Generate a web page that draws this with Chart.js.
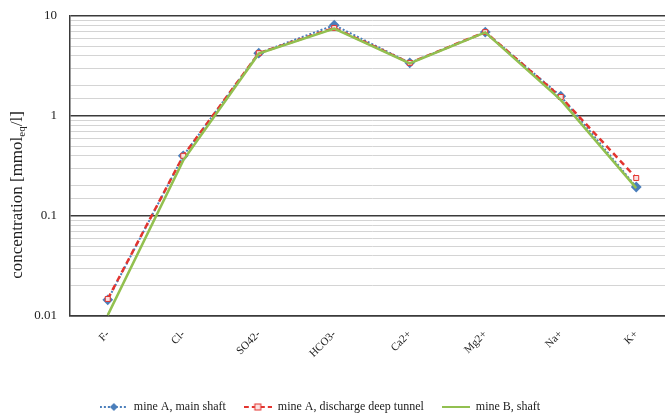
<!DOCTYPE html>
<html>
<head>
<meta charset="utf-8">
<script src="https://cdn.jsdelivr.net/npm/chart.js@4.4.1/dist/chart.umd.min.js"></script>
<style>
    html, body { margin: 0; padding: 0; background: #fff; overflow: hidden; }
    #wrap { width: 665px; height: 418px; overflow: hidden; }
</style>
</head>
<body>
<div id="wrap"><canvas id="chart" width="680" height="418"></canvas></div>
<script>
// ions on the x axis
const ions = ['F-', 'Cl-', 'SO42-', 'HCO3-', 'Ca2+', 'Mg2+', 'Na+', 'K+'];
// concentrations in mmol_eq/l
const mineAMain = [0.0145, 0.40, 4.25, 8.1, 3.4, 6.9, 1.58, 0.195];
const mineADeep = [0.0148, 0.40, 4.25, 7.6, 3.4, 6.9, 1.55, 0.24];
const mineBShaft = [0.0102, 0.36, 4.2, 7.5, 3.35, 6.85, 1.45, 0.19];
const seriesNames = ['mine A, main shaft', 'mine A, discharge deep tunnel', 'mine B, shaft'];
// labelled y ticks
const yTicks = [0.01, 0.1, 1, 10];

const FONT = '"Liberation Serif", "DejaVu Serif", serif';
const BLUE = '#4a7ebb';
const RED = '#e3342f';
const GREEN = '#92c050';

function isDecade(v) {
    const l = Math.log10(v);
    return Math.abs(l - Math.round(l)) < 1e-6;
}

// small legend picture: line sample with the marker in the middle
function legendSample(color, dash, marker) {
    const c = document.createElement('canvas');
    c.width = 28;
    c.height = 10;
    const g = c.getContext('2d');
    g.strokeStyle = color;
    g.lineWidth = 2;
    g.setLineDash(dash);
    g.beginPath();
    g.moveTo(0, 5);
    g.lineTo(28, 5);
    g.stroke();
    g.setLineDash([]);
    if (marker === 'diamond') {
        g.fillStyle = color;
        g.beginPath();
        g.moveTo(14, 1); g.lineTo(18, 5); g.lineTo(14, 9); g.lineTo(10, 5);
        g.closePath();
        g.fill();
    } else if (marker === 'square') {
        g.fillStyle = '#fbe0e0';
        g.fillRect(11, 2, 6, 6);
        g.lineWidth = 1;
        g.strokeStyle = color;
        g.strokeRect(11, 2, 6, 6);
    }
    return c;
}

const samples = [
    legendSample(BLUE, [2, 2], 'diamond'),
    legendSample(RED, [5, 3], 'square'),
    legendSample(GREEN, [], null)
];

// rotated y title with "eq" as subscript
const yTitle = {
    id: 'yTitle',
    afterDraw(chart) {
        const ctx = chart.ctx;
        const big = '17px ' + FONT;
        const small = '11px ' + FONT;
        const parts = [['concentration [mmol', big, 0], ['eq', small, 4], ['/l]', big, 0]];
        ctx.save();
        let total = 0;
        parts.forEach(p => { ctx.font = p[1]; total += ctx.measureText(p[0]).width; });
        ctx.translate(18, 195);
        ctx.rotate(-Math.PI / 2);
        ctx.fillStyle = '#222';
        ctx.textBaseline = 'middle';
        let x = -total / 2;
        parts.forEach(p => {
            ctx.font = p[1];
            ctx.fillText(p[0], x, p[2]);
            x += ctx.measureText(p[0]).width;
        });
        ctx.restore();
    }
};

// the legend in the picture sits a bit left of the centre
const legendShift = {
    id: 'legendShift',
    afterLayout(chart) {
        chart.legend.right -= 40;
    }
};

const config = {
    type: 'line',
    data: {
        labels: ions,
        datasets: [
            {
                label: seriesNames[0],
                data: mineAMain,
                borderColor: BLUE,
                borderWidth: 2,
                borderDash: [2, 2],
                pointStyle: 'rectRot',
                pointRadius: 4,
                pointBackgroundColor: BLUE,
                pointBorderColor: BLUE,
                order: 3
            },
            {
                label: seriesNames[1],
                data: mineADeep,
                borderColor: RED,
                borderWidth: 2.5,
                borderDash: [6, 4],
                pointStyle: 'rect',
                pointRadius: 3.5,
                pointBackgroundColor: '#fbe0e0',
                pointBorderColor: RED,
                pointBorderWidth: 1,
                order: 2
            },
            {
                label: seriesNames[2],
                data: mineBShaft,
                borderColor: GREEN,
                borderWidth: 2.5,
                pointRadius: 0,
                order: 1
            }
        ]
    },
    options: {
        responsive: false,
        animation: false,
        devicePixelRatio: 1,
        layout: {
            padding: { top: 16, left: 0, right: 0, bottom: -5 }
        },
        plugins: {
            tooltip: { enabled: false },
            legend: {
                position: 'bottom',
                align: 'center',
                labels: {
                    usePointStyle: true,
                    pointStyleWidth: 28,
                    boxHeight: 10,
                    padding: 18,
                    color: '#222',
                    font: { family: FONT, size: 12 },
                    generateLabels(chart) {
                        return chart.data.datasets.map((ds, i) => ({
                            text: ds.label,
                            datasetIndex: i,
                            pointStyle: samples[i],
                            fillStyle: 'rgba(0,0,0,0)',
                            strokeStyle: 'rgba(0,0,0,0)',
                            lineWidth: 0,
                            fontColor: '#222',
                            hidden: false
                        }));
                    }
                }
            }
        },
        scales: {
            x: {
                offset: true,
                grid: { display: false, drawTicks: false },
                border: { display: true, color: '#3a3a3a', width: 1.5 },
                ticks: {
                    minRotation: 45,
                    maxRotation: 45,
                    padding: 12,
                    color: '#222',
                    font: { family: FONT, size: 11 }
                },
                afterFit(scale) { scale.height = 67; }
            },
            y: {
                type: 'logarithmic',
                min: 0.01,
                max: 10,
                grid: {
                    drawTicks: false,
                    color: ctx => isDecade(ctx.tick.value) ? '#3a3a3a' : '#d4d4d4',
                    lineWidth: ctx => isDecade(ctx.tick.value) ? 1.5 : 1
                },
                border: { display: true, color: '#3a3a3a', width: 1.5 },
                ticks: {
                    autoSkip: false,
                    padding: 13,
                    color: '#222',
                    font: { family: FONT, size: 13 },
                    callback: v => yTicks.some(t => Math.abs(t - v) < 1e-9) ? String(v) : ''
                },
                afterFit(scale) {
                    scale.width = 70;
                    scale.paddingTop = 0;
                    scale.paddingBottom = 0;
                }
            }
        }
    },
    plugins: [yTitle, legendShift]
};

window.onload = () => {
    new Chart(document.getElementById('chart'), config);
};
</script>
</body>
</html>
